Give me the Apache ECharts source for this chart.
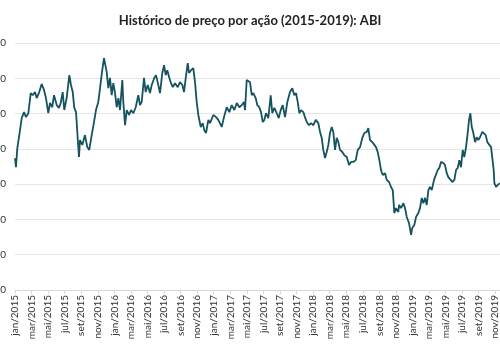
<!DOCTYPE html>
<html>
<head>
<meta charset="utf-8">
<script src="https://cdn.jsdelivr.net/npm/echarts@6/dist/echarts.min.js"></script>
<style>
  html, body { margin: 0; padding: 0; background: #fff; }
  #chart-container { width: 500px; height: 350px; }
</style>
</head>
<body>
<div id="chart-container"></div>
<script>
// months since jan/2015 (x) and share price (y)
var months = [
  0.00, 0.12, 0.28, 0.52, 0.81, 1.09, 1.33, 1.61, 1.90, 2.14, 2.42, 2.62, 2.93, 3.22, 3.50, 3.74,
  4.02, 4.23, 4.50, 4.71, 5.04, 5.31, 5.52, 5.76, 5.95, 6.24, 6.56, 6.76, 6.97, 7.16, 7.37, 7.57,
  7.73, 7.85, 8.13, 8.45, 8.73, 8.97, 9.26, 9.54, 9.78, 10.06, 10.27, 10.51, 10.75, 11.07, 11.27, 11.47,
  11.68, 11.87, 12.08, 12.28, 12.48, 12.68, 12.96, 13.08, 13.29, 13.49, 13.77, 14.01, 14.29, 14.58, 14.89, 15.10,
  15.30, 15.58, 15.78, 16.03, 16.30, 16.51, 16.82, 17.03, 17.23, 17.51, 17.79, 18.00, 18.20, 18.39, 18.64, 18.84,
  19.05, 19.32, 19.65, 19.93, 20.21, 20.41, 20.62, 20.86, 21.01, 21.26, 21.53, 21.74, 21.94, 22.14, 22.43, 22.67,
  22.86, 23.07, 23.35, 23.55, 23.95, 24.28, 24.55, 24.96, 25.24, 25.57, 25.88, 26.17, 26.49, 26.78, 27.09, 27.38,
  27.66, 27.78, 27.98, 28.18, 28.38, 28.59, 28.78, 29.07, 29.26, 29.50, 29.71, 29.92, 30.11, 30.31, 30.59, 30.88,
  31.07, 31.32, 31.61, 31.85, 32.09, 32.33, 32.61, 32.89, 33.21, 33.49, 33.73, 33.94, 34.14, 34.34, 34.54, 34.82,
  35.02, 35.23, 35.51, 35.75, 36.03, 36.32, 36.63, 36.84, 37.04, 37.23, 37.44, 37.64, 37.84, 38.04, 38.25, 38.44,
  38.65, 38.85, 39.05, 39.25, 39.53, 39.77, 40.06, 40.34, 40.58, 40.86, 41.15, 41.39, 41.67, 41.94, 42.19, 42.48,
  42.67, 42.87, 43.15, 43.39, 43.60, 43.80, 44.00, 44.20, 44.41, 44.69, 44.89, 45.17, 45.41, 45.62, 45.81, 46.01,
  46.29, 46.38, 46.62, 46.90, 47.10, 47.31, 47.58, 47.83, 47.98, 48.22, 48.43, 48.71, 48.91, 49.12, 49.31, 49.52,
  49.72, 49.92, 50.12, 50.33, 50.60, 50.81, 51.05, 51.24, 51.45, 51.73, 51.93, 52.14, 52.33, 52.54, 52.81, 53.06,
  53.26, 53.47, 53.66, 53.86, 54.07, 54.26, 54.47, 54.67, 54.83, 54.99, 55.16, 55.35, 55.56, 55.76, 55.95, 56.16,
  56.44, 56.68, 56.85, 57.04, 57.25, 57.49, 57.65, 57.81, 57.89, 58.09, 58.30, 58.57
];
var prices = [
  77.4, 74.8, 80.2, 83.9, 88.7, 90.4, 89.0, 90.1, 95.8, 95.2, 96.1, 94.4, 96.1, 98.4, 96.7, 94.4,
  90.1, 93.0, 91.8, 95.2, 92.4, 91.6, 93.0, 96.1, 91.0, 94.4, 100.9, 98.1, 96.1, 91.6, 90.4, 83.0,
  77.7, 82.5, 81.1, 83.9, 80.5, 79.7, 83.9, 87.6, 91.0, 93.3, 97.2, 101.8, 105.7, 101.8, 97.2, 100.1,
  95.2, 98.6, 95.8, 91.8, 94.4, 91.0, 99.5, 93.3, 86.7, 91.0, 89.6, 91.0, 90.1, 91.8, 95.2, 92.4,
  93.3, 100.1, 96.1, 98.1, 95.8, 98.1, 100.1, 100.9, 98.9, 95.8, 101.5, 103.7, 100.9, 102.3, 100.1, 98.6,
  97.5, 98.6, 97.5, 98.9, 98.1, 96.1, 100.1, 104.3, 101.5, 102.3, 102.9, 98.9, 93.3, 89.6, 86.2, 87.3,
  85.3, 84.5, 88.2, 87.3, 89.6, 89.0, 88.2, 86.2, 89.0, 91.8, 90.4, 92.4, 91.0, 93.0, 91.8, 92.4,
  93.3, 91.0, 99.5, 99.5, 98.9, 95.2, 95.8, 94.4, 92.4, 91.8, 90.4, 87.6, 88.2, 90.1, 88.7, 95.2,
  90.1, 91.6, 90.1, 88.7, 91.0, 92.4, 89.0, 93.3, 96.1, 97.2, 95.2, 95.8, 93.3, 90.1, 91.0, 90.4,
  89.0, 87.6, 86.7, 87.3, 86.7, 88.2, 87.3, 84.8, 83.1, 79.7, 77.4, 79.1, 81.1, 84.5, 86.2, 84.8,
  79.7, 83.1, 81.9, 79.7, 79.1, 78.2, 77.7, 75.4, 76.3, 76.3, 76.8, 79.7, 80.5, 83.1, 84.5, 84.8,
  85.9, 82.5, 81.9, 81.6, 80.5, 79.1, 76.8, 74.0, 72.6, 73.1, 71.2, 70.6, 69.2, 68.3, 61.8, 63.2,
  62.1, 64.1, 63.2, 64.6, 63.2, 60.7, 59.0, 55.6, 57.6, 58.4, 60.7, 61.8, 63.2, 66.1, 64.6, 66.1,
  64.1, 68.3, 69.2, 68.3, 71.2, 71.2, 74.0, 74.6, 76.3, 76.0, 75.4, 73.1, 72.0, 71.7, 70.6, 71.2,
  74.0, 74.6, 76.8, 74.8, 79.7, 77.7, 80.5, 84.5, 88.2, 90.1, 86.2, 84.5, 81.9, 83.3, 82.5, 83.3,
  84.8, 84.5, 83.9, 81.9, 81.6, 80.5, 80.2, 74.0, 70.3, 69.2, 69.8, 70.3
];
var monthNames = ['jan', 'fev', 'mar', 'abr', 'mai', 'jun', 'jul', 'ago', 'set', 'out', 'nov', 'dez'];
var firstYear = 2015;

var points = months.map(function (m, i) { return [m, prices[i]]; });

var dom = document.getElementById('chart-container');
var myChart = echarts.init(dom, null, { renderer: 'canvas' });

var option = {
    animation: false,
    title: {
        text: 'Histórico de preço por ação (2015-2019): ABI',
        left: 'center',
        top: 9,
        textStyle: { fontFamily: 'Lato', fontSize: 13, fontWeight: 'bold', color: '#222' }
    },
    grid: { left: 15, right: 0, top: 43, bottom: 60, containLabel: false, outerBoundsMode: 'none' },
    xAxis: {
        type: 'value',
        min: 0,
        max: 58.57,
        interval: 2,
        splitLine: { show: false },
        axisLine: { show: true, lineStyle: { color: '#d9d9d9' } },
        axisTick: { show: true, length: 4, lineStyle: { color: '#d9d9d9' } },
        axisLabel: {
            rotate: 90,
            margin: 5,
            fontFamily: 'Lato',
            fontSize: 10,
            color: '#333',
            showMaxLabel: false,
            formatter: function (v) {
                var k = Math.round(v);
                return monthNames[k % 12] + '/' + (firstYear + Math.floor(k / 12));
            }
        }
    },
    yAxis: {
        type: 'value',
        min: 40,
        max: 110,
        interval: 10,
        axisLine: { show: false },
        axisTick: { show: false },
        splitLine: { lineStyle: { color: '#e6e6e6' } },
        axisLabel: { margin: 9, fontFamily: 'Lato', fontSize: 10, color: '#333' }
    },
    series: [
        {
            type: 'line',
            data: points,
            showSymbol: false,
            lineStyle: { color: '#15535f', width: 1.8 }
        }
    ]
};

myChart.setOption(option);
window.addEventListener('resize', myChart.resize);
</script>
</body>
</html>
